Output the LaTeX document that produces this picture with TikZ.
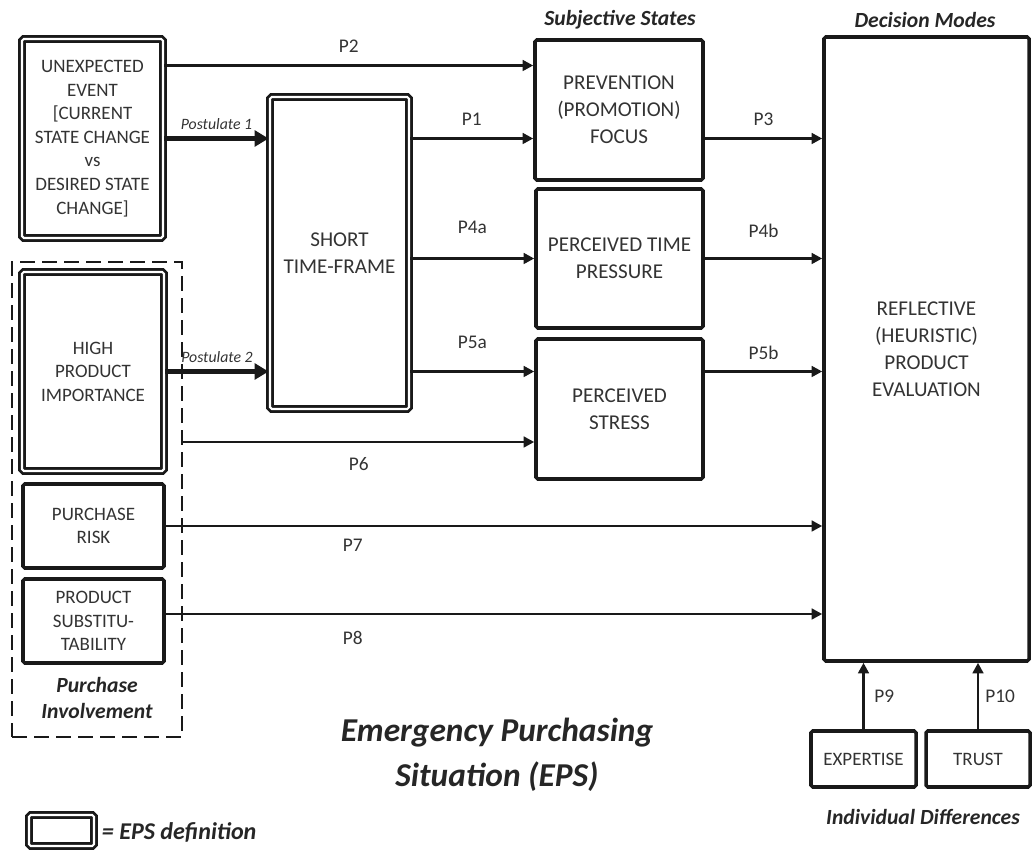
\documentclass[tikz,border=0pt]{standalone}
\usepackage{fontspec}
\setmainfont{Carlito}
\usetikzlibrary{arrows.meta}
\tikzset{
  box/.style={draw=black!90,line width=2pt,rounded corners=1pt,align=center,inner sep=2pt,
    text=black!80,font=\fontsize{12}{15.3}\selectfont},
  sbox/.style={box,font=\fontsize{10.8}{13.4}\selectfont},
  eps/.style={double=white,line width=1.6pt,double distance=1.2pt},
  arr/.style={draw=black!90,line width=1.6pt,-{Triangle[length=6pt,width=6pt]}},
  post/.style={arr,line width=3.4pt,-{Triangle[length=8pt,width=9pt]}},
  lbl/.style={text=black!80,font=\fontsize{11}{13}\selectfont},
  plbl/.style={text=black!80,font=\fontsize{9}{11}\selectfont\itshape},
  ttl/.style={text=black!85,align=center,font=\fontsize{12.3}{14.5}\selectfont\bfseries\itshape}
}
\begin{document}
\begin{tikzpicture}
    \useasboundingbox (0,0) rectangle (20.66,-17.1);
    \node[sbox,eps,minimum width=2.82cm,minimum height=3.98cm] (event) at (1.85,-2.77) {UNEXPECTED\\EVENT\\{[}CURRENT\\STATE CHANGE\\vs\\DESIRED STATE\\CHANGE]};
    \node[box,eps,minimum width=2.78cm,minimum height=6.24cm] (frame) at (6.79,-5.06) {SHORT\\TIME-FRAME};
    \node[sbox,eps,minimum width=2.84cm,minimum height=3.98cm] (hpi) at (1.86,-7.43) {HIGH\\PRODUCT\\IMPORTANCE};
    \node[sbox,minimum width=2.82cm,minimum height=1.68cm] (risk) at (1.87,-10.52) {PURCHASE\\RISK};
    \node[sbox,minimum width=2.82cm,minimum height=1.68cm] (subst) at (1.87,-12.42) {PRODUCT\\SUBSTITU-\\TABILITY};
    \node[draw=black!90,line width=1.6pt,dash pattern=on 0.3cm off 0.14cm,minimum width=3.4cm,minimum height=9.5cm] (invol) at (1.94,-9.99) {};
    \node[ttl] (involtxt) at (1.94,-13.96) {Purchase\\Involvement};
    \node[box,minimum width=3.36cm,minimum height=2.8cm] (focus) at (12.38,-2.2) {PREVENTION\\(PROMOTION)\\FOCUS};
    \node[box,minimum width=3.34cm,minimum height=2.78cm] (pressure) at (12.39,-5.17) {PERCEIVED TIME\\PRESSURE};
    \node[box,minimum width=3.34cm,minimum height=2.8cm] (stress) at (12.39,-8.18) {PERCEIVED\\STRESS};
    \node[box,minimum width=4.1cm,minimum height=12.48cm] (reflect) at (18.53,-6.98) {REFLECTIVE\\(HEURISTIC)\\PRODUCT\\EVALUATION};
    \node[sbox,minimum width=2.1cm,minimum height=1.12cm] (expertise) at (17.27,-15.18) {EXPERTISE};
    \node[sbox,minimum width=2.08cm,minimum height=1.12cm] (trust) at (19.56,-15.18) {TRUST};
    \node[ttl] (subj) at (12.4,-0.4) {Subjective States};
    \node[ttl] (modes) at (18.5,-0.4) {Decision Modes};
    \node[ttl] (indiv) at (18.46,-16.34) {Individual Differences};
    \node[ttl,font=\fontsize{19}{25.5}\selectfont\bfseries\itshape] (eps) at (9.94,-15.1) {Emergency Purchasing\\Situation (EPS)};
    \node[draw=black!90,eps,rounded corners=1pt,minimum width=1.3cm,minimum height=0.62cm] (legend) at (1.23,-16.61) {};
    \node[ttl,font=\fontsize{13.7}{16}\selectfont\bfseries\itshape,anchor=west,inner sep=0pt] (legendtxt) at (2.03,-16.64) {= EPS definition};
    \coordinate (p2) at ([yshift=1.46cm]event.east);
    \coordinate (p6) at ([yshift=-1.41cm]hpi.east);
    \coordinate (p8) at ([yshift=0.14cm]subst.east);
    \draw[arr] (p2) -- (p2 -| focus.west) node[lbl,midway,above=3.3pt] {P2};
    \draw[post] (event.east) -- (event.east -| frame.west) node[plbl,midway,above] {Postulate 1};
    \draw[arr] (event.east -| frame.east) -- (event.east -| focus.west) node[lbl,midway,above=3.3pt] {P1};
    \draw[arr] (event.east -| focus.east) -- (event.east -| reflect.west) node[lbl,midway,above=3pt] {P3};
    \draw[arr] (pressure.west -| frame.east) -- (pressure.west) node[lbl,midway,above=10pt] {P4a};
    \draw[arr] (pressure.east) -- (pressure.east -| reflect.west) node[lbl,midway,above=8pt] {P4b};
    \draw[post] (hpi.east) -- (hpi.east -| frame.west) node[plbl,midway,above] {Postulate 2};
    \draw[arr] (hpi.east -| frame.east) -- (hpi.east -| stress.west) node[lbl,midway,above=9pt] {P5a};
    \draw[arr] (hpi.east -| stress.east) -- (hpi.east -| reflect.west) node[lbl,midway,above=2.7pt] {P5b};
    \draw[arr] (p6 -| invol.east) -- (p6 -| stress.west) node[lbl,midway,below=4.4pt] {P6};
    \draw[arr] (risk.east) -- (risk.east -| reflect.west) node[lbl,pos=0.285,below=3.3pt] {P7};
    \draw[arr] (p8) -- (p8 -| reflect.west) node[lbl,pos=0.285,below=5.6pt] {P8};
    \draw[arr] (expertise.north) -- (expertise.north |- reflect.south) node[lbl,midway,right=2pt] {P9};
    \draw[arr] (trust.north) -- (trust.north |- reflect.south) node[lbl,midway,right=0pt] {P10};
\end{tikzpicture}
\end{document}
